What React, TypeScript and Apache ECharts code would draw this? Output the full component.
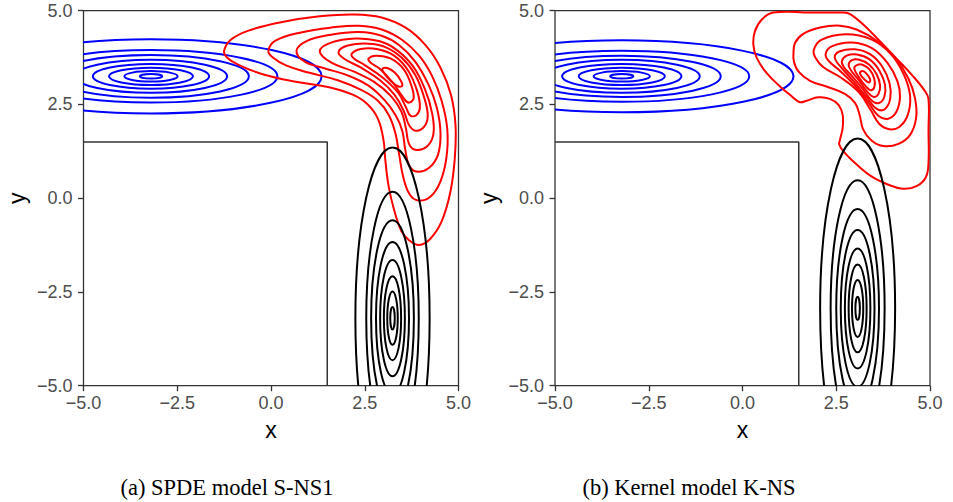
import React, { useEffect, useRef } from "react";
import * as echarts from "echarts";

// Axis ticks shared by both panels
const TICK_VALUES = [-5, -2.5, 0, 2.5, 5];
const TICK_LABELS = ["\u22125.0", "\u22122.5", "0.0", "2.5", "5.0"];
const CAPTIONS = ["(a) SPDE model S-NS1", "(b) Kernel model K-NS"];

// L-shaped wall of the domain
const WALL = [
  [-5, 1.5],
  [1.5, 1.5],
  [1.5, -5],
];

// Panel (a): source field (blue), target field (black) level sets as ellipses
const BLUE_A_CENTRE = [-3.2, 3.25];
const BLUE_A_RX = [4.55, 3.37, 2.61, 2.03, 1.55, 1.12, 0.71, 0.3];
const BLUE_A_RY = [0.99, 0.7, 0.57, 0.44, 0.33, 0.23, 0.14, 0.06];
const BLACK_A_CENTRE = [3.24, -3.2];
const BLACK_A_RX = [0.99, 0.7, 0.57, 0.44, 0.33, 0.23, 0.14, 0.06];
const BLACK_A_RY = [4.55, 3.37, 2.61, 2.03, 1.55, 1.12, 0.71, 0.3];

// Panel (b)
const BLUE_B_CENTRE = [-3.22, 3.25];
const BLUE_B_RX = [4.58, 3.4, 2.64, 2.08, 1.59, 1.15, 0.75, 0.31];
const BLUE_B_RY = [0.96, 0.68, 0.55, 0.44, 0.33, 0.23, 0.14, 0.06];
const BLACK_B_CENTRE = [3.07, -2.94];
const BLACK_B_RX = [1.0, 0.72, 0.57, 0.45, 0.34, 0.24, 0.15, 0.06];
const BLACK_B_RY = [4.53, 3.42, 2.65, 2.09, 1.6, 1.17, 0.76, 0.31];

// Panel (a): covariance contours around the corner (red)
const RED_A1 = [
  [-1.25, 3.93], [-1.08, 4.22], [-0.6, 4.47], [0.3, 4.7], [1.3, 4.85], [2.2, 4.9],
  [2.95, 4.82], [3.6, 4.54], [4.12, 4.08], [4.52, 3.48], [4.8, 2.75], [4.92, 1.95],
  [4.9, 1.05], [4.78, 0.15], [4.55, -0.62], [4.25, -1.08], [3.95, -1.25], [3.68, -1.12],
  [3.48, -0.88], [3.28, -0.3], [3.14, 0.3], [3.05, 1.0], [3.0, 1.55], [2.85, 2.12],
  [2.58, 2.5], [2.18, 2.76], [1.55, 2.96], [0.7, 3.1], [-0.2, 3.3], [-0.85, 3.55], [-1.18, 3.76],
];
const RED_A2 = [
  [-0.07, 3.93], [0.12, 4.2], [0.8, 4.42], [1.6, 4.55], [2.35, 4.6], [2.95, 4.5],
  [3.5, 4.22], [3.95, 3.8], [4.3, 3.25], [4.55, 2.6], [4.7, 1.85], [4.68, 1.1],
  [4.52, 0.45], [4.25, 0.04], [3.93, -0.06], [3.7, 0.1], [3.53, 0.55], [3.42, 1.15],
  [3.32, 1.72], [3.14, 2.22], [2.85, 2.6], [2.42, 2.88], [1.8, 3.14], [1.0, 3.35],
  [0.4, 3.54], [0.05, 3.75],
];
const RED_A3 = [
  [0.68, 3.93], [0.95, 4.19], [1.6, 4.36], [2.35, 4.43], [2.95, 4.33], [3.42, 4.08],
  [3.84, 3.65], [4.2, 3.03], [4.42, 2.42], [4.52, 1.75], [4.45, 1.15], [4.2, 0.8],
  [3.88, 0.71], [3.68, 0.88], [3.58, 1.3], [3.5, 1.8], [3.33, 2.2], [3.04, 2.6],
  [2.6, 3.0], [2.06, 3.27], [1.44, 3.46], [0.9, 3.64],
];
const RED_A4 = [
  [1.3, 3.92], [1.6, 4.15], [2.25, 4.26], [2.88, 4.19], [3.33, 3.97], [3.77, 3.54],
  [4.1, 2.92], [4.3, 2.25], [4.33, 1.7], [4.15, 1.37], [3.85, 1.29], [3.68, 1.45],
  [3.6, 1.85], [3.48, 2.3], [3.2, 2.72], [2.75, 3.1], [2.2, 3.38], [1.6, 3.62],
];
const RED_A5 = [
  [1.8, 3.9], [2.05, 4.07], [2.6, 4.12], [3.05, 4.03], [3.48, 3.75], [3.84, 3.3],
  [4.08, 2.7], [4.18, 2.2], [4.08, 1.9], [3.85, 1.8], [3.68, 1.95], [3.55, 2.3],
  [3.3, 2.75], [2.9, 3.15], [2.4, 3.48], [1.95, 3.72],
];
const RED_A6 = [
  [2.15, 3.85], [2.4, 3.98], [2.85, 3.97], [3.3, 3.79], [3.66, 3.4], [3.9, 2.85],
  [3.97, 2.42], [3.88, 2.22], [3.72, 2.2], [3.6, 2.42], [3.4, 2.8], [3.0, 3.2],
  [2.5, 3.55], [2.22, 3.72],
];
const RED_A7 = [
  [2.6, 3.72], [2.8, 3.8], [3.2, 3.72], [3.55, 3.42], [3.76, 2.95], [3.8, 2.65],
  [3.66, 2.55], [3.5, 2.72], [3.25, 3.08], [2.9, 3.45], [2.65, 3.62],
];
const RED_A8 = [
  [2.97, 3.45], [3.1, 3.47], [3.3, 3.35], [3.47, 3.12], [3.5, 3.0], [3.4, 2.98],
  [3.2, 3.12], [3.02, 3.33],
];

// Panel (b): kernel covariance contours (red)
const RED_B1 = [
  [0.82, 4.95], [0.51, 4.76], [0.33, 4.45], [0.29, 4.09], [0.38, 3.74], [0.64, 3.34],
  [1.0, 2.98], [1.31, 2.72], [1.53, 2.56], [1.71, 2.6], [2.02, 2.69], [2.33, 2.65],
  [2.56, 2.49], [2.67, 2.23], [2.67, 1.87], [2.6, 1.56], [2.58, 1.43], [2.69, 1.25],
  [3.0, 0.94], [3.44, 0.58], [3.89, 0.36], [4.29, 0.25], [4.64, 0.32], [4.89, 0.56],
  [4.96, 0.95], [4.96, 1.8], [4.96, 2.65], [4.87, 2.85], [4.55, 3.25], [4.11, 3.72],
  [3.67, 4.18], [3.22, 4.63], [2.87, 4.91], [2.7, 4.95], [1.8, 4.95],
];
const RED_B2 = [
  [1.36, 3.87], [1.4, 4.14], [1.62, 4.38], [2.07, 4.55], [2.6, 4.6], [3.04, 4.5],
  [3.58, 4.2], [4.07, 3.74], [4.42, 3.2], [4.6, 2.67], [4.63, 2.14], [4.47, 1.69],
  [4.16, 1.45], [3.76, 1.39], [3.44, 1.54], [3.22, 1.83], [3.12, 2.23], [3.0, 2.54],
  [2.73, 2.78], [2.29, 2.96], [1.8, 3.13], [1.49, 3.38], [1.37, 3.65],
];
const RED_B3 = [
  [1.9, 3.95], [2.1, 4.22], [2.75, 4.37], [3.42, 4.24], [3.95, 3.85], [4.3, 3.3],
  [4.47, 2.72], [4.4, 2.2], [4.18, 1.9], [3.92, 1.84], [3.65, 1.98], [3.42, 2.35],
  [3.1, 2.83], [2.62, 3.22], [2.15, 3.5], [1.95, 3.74],
];
const RED_B4 = [
  [2.22, 3.86], [2.38, 4.05], [2.92, 4.15], [3.45, 4.0], [3.87, 3.6], [4.13, 3.12],
  [4.2, 2.7], [4.1, 2.3], [3.88, 2.12], [3.62, 2.2], [3.36, 2.55], [2.98, 3.02],
  [2.56, 3.43], [2.28, 3.68],
];
const RED_B5 = [
  [2.46, 3.76], [2.6, 3.92], [3.0, 3.97], [3.4, 3.84], [3.72, 3.52], [3.92, 3.07],
  [3.94, 2.66], [3.8, 2.38], [3.58, 2.38], [3.32, 2.68], [2.96, 3.12], [2.62, 3.5],
];
const RED_B6 = [
  [2.65, 3.66], [2.78, 3.8], [3.05, 3.83], [3.38, 3.71], [3.64, 3.42], [3.8, 3.03],
  [3.78, 2.7], [3.64, 2.54], [3.45, 2.6], [3.2, 2.92], [2.9, 3.28], [2.7, 3.5],
];
const RED_B7 = [
  [2.83, 3.56], [2.92, 3.68], [3.12, 3.69], [3.38, 3.56], [3.58, 3.3], [3.67, 3.0],
  [3.62, 2.77], [3.5, 2.7], [3.34, 2.82], [3.1, 3.15], [2.9, 3.4],
];
const RED_B8 = [
  [2.98, 3.46], [3.05, 3.55], [3.2, 3.56], [3.38, 3.44], [3.51, 3.2], [3.52, 2.98],
  [3.43, 2.88], [3.3, 2.97], [3.1, 3.23],
];
const RED_B9 = [
  [3.13, 3.34], [3.2, 3.39], [3.3, 3.33], [3.4, 3.18], [3.39, 3.09], [3.32, 3.11], [3.2, 3.22],
];

const RED_A = [RED_A1, RED_A2, RED_A3, RED_A4, RED_A5, RED_A6, RED_A7, RED_A8];
const RED_B = [RED_B1, RED_B2, RED_B3, RED_B4, RED_B5, RED_B6, RED_B7, RED_B8, RED_B9];

const LINE_W = 2;
const GRIDS = [
  { left: 83.5, top: 10.7, width: 375, height: 375 },
  { left: 555, top: 10.7, width: 375, height: 375 },
];
const CAPTION_POS = [
  [227, 487],
  [689, 487],
];

function ellipseSeries(gi: number, color: string, centre: number[], rx: number[], ry: number[]) {
  return {
    type: "custom",
    xAxisIndex: gi,
    yAxisIndex: gi,
    clip: true,
    silent: true,
    data: rx.map((r, i) => [centre[0], centre[1], r, ry[i]]),
    renderItem: (_p: any, api: any) => {
      const c = api.coord([api.value(0), api.value(1)]);
      const s = api.size([api.value(2), api.value(3)]);
      return {
        type: "ellipse",
        shape: { cx: c[0], cy: c[1], rx: s[0], ry: s[1] },
        style: { fill: "none", stroke: color, lineWidth: LINE_W },
      };
    },
  };
}

function ringSeries(gi: number, color: string, rings: number[][][]) {
  return {
    type: "custom",
    xAxisIndex: gi,
    yAxisIndex: gi,
    clip: true,
    silent: true,
    data: rings.map((r) => r[0]),
    renderItem: (p: any, api: any) => {
      const ring = rings[p.dataIndex];
      return {
        type: "polygon",
        shape: { points: ring.map((pt) => api.coord(pt)), smooth: 0.4 },
        style: { fill: "none", stroke: color, lineWidth: LINE_W },
      };
    },
  };
}

function wallSeries(gi: number) {
  return {
    type: "line",
    xAxisIndex: gi,
    yAxisIndex: gi,
    data: WALL,
    symbol: "none",
    silent: true,
    lineStyle: { color: "#333333", width: 1.5 },
  };
}

const tickLabel = (v: number) => {
  const i = TICK_VALUES.indexOf(v);
  return i >= 0 ? TICK_LABELS[i] : "";
};

function axis(gi: number, name: string, isY: boolean) {
  return {
    type: "value",
    gridIndex: gi,
    position: isY ? "left" : "bottom",
    min: -5,
    max: 5,
    interval: 2.5,
    name,
    nameLocation: "middle",
    nameGap: isY ? 55 : 33,
    nameTextStyle: { color: "#000000", fontSize: 23, fontFamily: "Liberation Sans" },
    splitLine: { show: false },
    axisLine: { show: false, onZero: false },
    axisTick: { show: true, length: 5.5, lineStyle: { color: "#333333", width: 1.3 } },
    axisLabel: {
      color: "#4D4D4D",
      fontSize: 18,
      fontFamily: "Liberation Sans",
      margin: isY ? 11 : 8,
      formatter: tickLabel,
    },
  };
}

export default function App() {
  const ref = useRef<HTMLDivElement>(null);
  useEffect(() => {
    const chart = echarts.init(ref.current!, undefined, { renderer: "svg" });
    chart.setOption({
      animation: false,
      backgroundColor: "#ffffff",
      grid: GRIDS.map((g) => ({
        ...g,
        show: true,
        borderColor: "#333333",
        borderWidth: 1.3,
        backgroundColor: "#ffffff",
      })),
      xAxis: [axis(0, "x", false), axis(1, "x", false)],
      yAxis: [axis(0, "y", true), axis(1, "y", true)],
      series: [
        wallSeries(0),
        ellipseSeries(0, "#0000FF", BLUE_A_CENTRE, BLUE_A_RX, BLUE_A_RY),
        ringSeries(0, "#FF0000", RED_A),
        ellipseSeries(0, "#000000", BLACK_A_CENTRE, BLACK_A_RX, BLACK_A_RY),
        wallSeries(1),
        ellipseSeries(1, "#0000FF", BLUE_B_CENTRE, BLUE_B_RX, BLUE_B_RY),
        ringSeries(1, "#FF0000", RED_B),
        ellipseSeries(1, "#000000", BLACK_B_CENTRE, BLACK_B_RX, BLACK_B_RY),
      ],
      graphic: CAPTIONS.map((text, i) => ({
        type: "text",
        x: CAPTION_POS[i][0],
        y: CAPTION_POS[i][1],
        silent: true,
        style: {
          text,
          fill: "#000000",
          fontSize: 22.5,
          fontFamily: "Liberation Serif",
          align: "center",
          verticalAlign: "middle",
        },
      })),
    });
    return () => chart.dispose();
  }, []);
  return (
    <div
      ref={ref}
      style={{ position: "fixed", left: 0, top: 0, width: 953, height: 502, background: "#ffffff" }}
    />
  );
}
